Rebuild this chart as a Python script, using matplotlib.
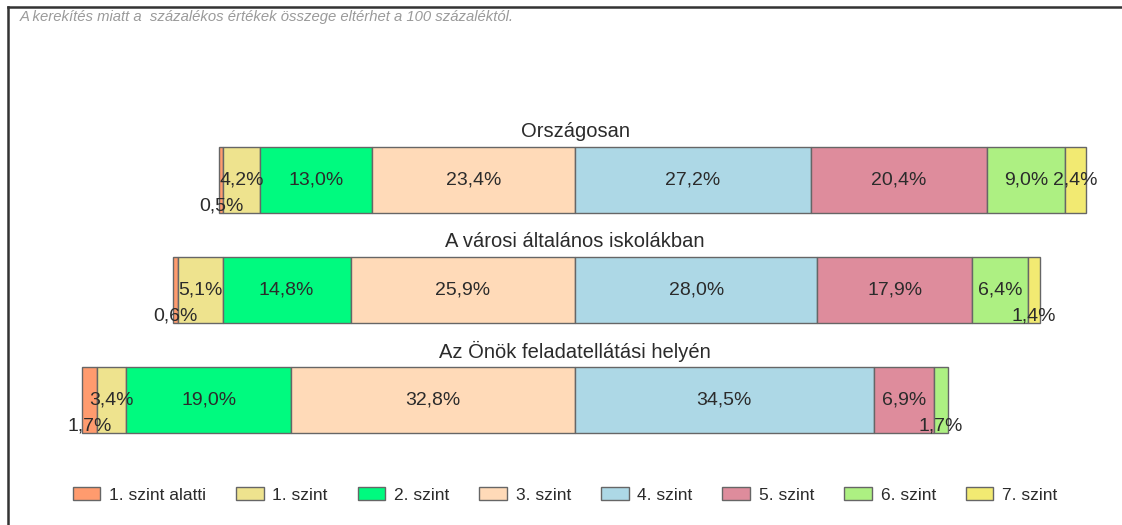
#!/usr/bin/env python3
"""Képességszintek szerinti megoszlás - diverging stacked bar chart."""

import matplotlib.pyplot as plt
from matplotlib.lines import Line2D
from matplotlib.patches import Patch

plt.rcParams["font.family"] = ["Liberation Sans", "DejaVu Sans"]

# --------------------------------------------------------------------------- #
# Adatok
# --------------------------------------------------------------------------- #
GROUPS = [
    "Országosan",
    "A városi általános iskolákban",
    "Az Önök feladatellátási helyén",
]
LEVELS = [
    "1. szint alatti", "1. szint", "2. szint", "3. szint",
    "4. szint", "5. szint", "6. szint", "7. szint",
]
# minden lista: [Országosan, városi, Önök]
below_1 = [0.5, 0.6, 1.7]
level_1 = [4.2, 5.1, 3.4]
level_2 = [13.0, 14.8, 19.0]
level_3 = [23.4, 25.9, 32.8]
level_4 = [27.2, 28.0, 34.5]
level_5 = [20.4, 17.9, 6.9]
level_6 = [9.0, 6.4, 1.7]
level_7 = [2.4, 1.4, 0.0]

SUBTITLE = "A kerekítés miatt a  százalékos értékek összege eltérhet a 100 százaléktól."

COLORS = ["#FF9B6E", "#EEE38E", "#00FA7F", "#FFDAB8", "#ADD8E6",
          "#DE8C9C", "#ADF082", "#F2EA72"]
EDGE = "#666666"
TEXT = "#2B2B2B"

# --------------------------------------------------------------------------- #
W, H = 1122, 525
PX_PER_PCT = 8.66
CENTER_PX = 575
ROW_PX = 110
FIRST_ROW_PX = 180
BAR_H = 0.6

fig = plt.figure(figsize=(W / 100, H / 100), dpi=100)
ax = fig.add_axes([0, 0, 1, 1])
ax.set_xlim(-CENTER_PX / PX_PER_PCT, (W - CENTER_PX) / PX_PER_PCT)
ax.set_ylim((H - FIRST_ROW_PX) / ROW_PX, -FIRST_ROW_PX / ROW_PX)
ax.axis("off")

series = [below_1, level_1, level_2, level_3, level_4, level_5, level_6, level_7]

for g in range(len(GROUPS)):
    vals = [s[g] for s in series]
    start = -sum(vals[:4])
    for k, v in enumerate(vals):
        if v > 0:
            ax.barh(g, v, left=start, height=BAR_H, color=COLORS[k],
                    edgecolor=EDGE, linewidth=1.0)
            label = f"{v:.1f}".replace(".", ",") + "%"
            ty = g + 0.24 if v < 2 else g
            ax.text(start + v / 2, ty, label, ha="center", va="center",
                    fontsize=14, color=TEXT)
        start += v
    ax.text(0, g - BAR_H / 2 - 0.14, GROUPS[g], ha="center", va="center",
            fontsize=14.5, color=TEXT)

# felirat és keret
fig.text(20 / W, 1 - 17 / H, SUBTITLE, fontsize=10.7, style="italic",
         color="#9A9A9A", ha="left", va="center")
fig.add_artist(Line2D([8 / W, 8 / W], [0, 1 - 7 / H], transform=fig.transFigure,
                      color="#333333", lw=1.8))
fig.add_artist(Line2D([8 / W, 1], [1 - 7 / H, 1 - 7 / H], transform=fig.transFigure,
                      color="#333333", lw=1.8))

handles = [Patch(facecolor=c, edgecolor=EDGE, linewidth=1.0) for c in COLORS]
fig.legend(handles, LEVELS, ncol=8, loc="center",
           bbox_to_anchor=(565 / W, 1 - 495 / H), frameon=False,
           fontsize=12.5, handlelength=1.6, handleheight=0.7,
           handletextpad=0.5, columnspacing=1.72, labelcolor=TEXT)

fig.savefig("out.png", dpi=100)
